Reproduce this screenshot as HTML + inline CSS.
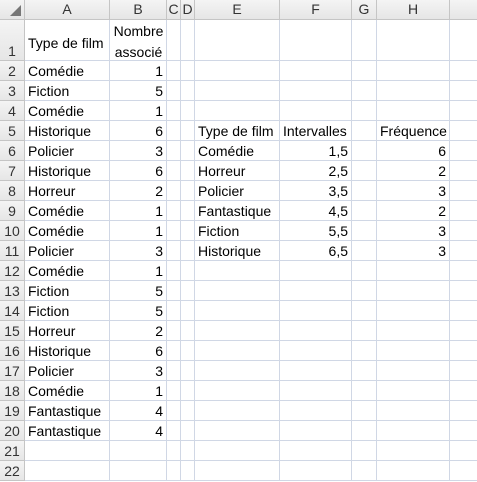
<!DOCTYPE html>
<html><head><meta charset="utf-8"><style>
body{margin:0;width:477px;height:455px;overflow:hidden;background:#fff;font-family:"Liberation Sans",sans-serif;font-size:14px;color:#000;position:relative}
.d{position:absolute;box-sizing:border-box}
.h{background:linear-gradient(#f4f4f4,#e6e6e6);border-right:1px solid #c5c5c5;border-bottom:1px solid #c5c5c5;color:#333;text-align:center;font-size:14px}
.c{border-right:1px solid #d0d7e5;border-bottom:1px solid #d0d7e5;white-space:nowrap;padding:0 3px;line-height:20px}
.r{text-align:right}
</style></head><body>
<div id="g"></div>
<script>
var cols=[[0,25,''],[25,110,'A'],[110,167,'B'],[167,181,'C'],[181,195,'D'],[195,280,'E'],[280,352,'F'],[352,377,'G'],[377,450,'H'],[450,490,'']];
var rows=[[0,20]];rows.push([20,61]);for(var n=2;n<=22;n++){var t=61+(n-2)*20;rows.push([t,t+20]);}
var h='';
function d(x,y,w,hh,cls,txt,st){h+='<div class="d '+cls+'" style="left:'+x+'px;top:'+y+'px;width:'+w+'px;height:'+hh+'px;'+(st||'')+'">'+txt+'</div>';}
for(var i=0;i<cols.length;i++){var c=cols[i];d(c[0],0,c[1]-c[0],20,'h',c[2],'line-height:19px');}
d(0,0,25,20,'h','<div style="position:absolute;right:3px;bottom:3px;width:0;height:0;border-left:11px solid transparent;border-bottom:11px solid #777"></div>');
for(var r=1;r<rows.length;r++){var R=rows[r];d(0,R[0],25,R[1]-R[0],'h',String(r),'line-height:'+(r==1?'62':'21')+'px');
 for(var i=1;i<cols.length;i++){var c=cols[i];d(c[0],R[0],c[1]-c[0],R[1]-R[0],'c','');}}
function cell(col,row,txt,right){var c=cols[col],R=rows[row];d(c[0],R[0],c[1]-c[0]+(right?0:40),R[1]-R[0],(right?'r':''),txt,'padding:0 4px 0 3px;line-height:'+(R[1]-R[0]+ (row==1?-4:1))+'px;'+(row==1?'padding-top:5px;':''));}
var A=['Comédie',1,'Fiction',5,'Comédie',1,'Historique',6,'Policier',3,'Historique',6,'Horreur',2,'Comédie',1,'Comédie',1,'Policier',3,'Comédie',1,'Fiction',5,'Fiction',5,'Horreur',2,'Historique',6,'Policier',3,'Comédie',1,'Fantastique',4,'Fantastique',4];
for(var k=0;k<19;k++){cell(1,k+2,A[2*k]);cell(2,k+2,String(A[2*k+1]),1);}
cell(1,1,'Type de film');
d(110,20,57,41,'','Nombre<br>associé','text-align:center;line-height:21px;padding-top:1px');
cell(5,5,'Type de film');cell(6,5,'Intervalles');cell(8,5,'Fréquence');
var T=[['Comédie','1,5',6],['Horreur','2,5',2],['Policier','3,5',3],['Fantastique','4,5',2],['Fiction','5,5',3],['Historique','6,5',3]];
for(var k=0;k<6;k++){cell(5,k+6,T[k][0]);cell(6,k+6,T[k][1],1);cell(8,k+6,String(T[k][2]),1);}
document.getElementById('g').innerHTML=h;
</script>
</body></html>
